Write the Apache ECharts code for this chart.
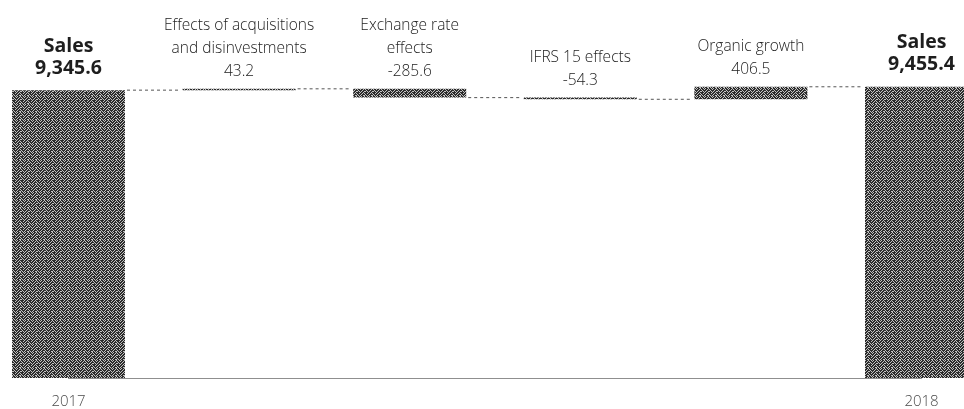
<!DOCTYPE html>
<html>
<head>
<meta charset="utf-8">
<style>
  html, body { margin: 0; padding: 0; background: #fff; }
  #chart { width: 964px; height: 409px; }
</style>
<script src="https://cdn.jsdelivr.net/npm/echarts@6/dist/echarts.min.js"></script>
</head>
<body>
<div id="chart"></div>
<script>
// Sales bridge 2017 -> 2018 (EUR million)
const categories = [
  'Sales',
  'Effects of acquisitions\nand disinvestments',
  'Exchange rate\neffects',
  'IFRS 15 effects',
  'Organic growth',
  'Sales'
];
const values = [9345.6, 43.2, -285.6, -54.3, 406.5, 9455.4];
const isTotal = [true, false, false, false, false, true];
const tickLabels = ['2017', '', '', '', '', '2018'];

// Running totals -> invisible base + visible segment for each column
const baseData = [];
const barData = [];
const levels = [];
let running = 0;
values.forEach((v, i) => {
  if (isTotal[i]) {
    baseData.push(0);
    barData.push({ value: v, label: { distance: 11 } });
    running = v;
  } else {
    baseData.push(Math.min(running, running + v));
    barData.push({ value: Math.abs(v) });
    running = running + v;
  }
  levels.push(running);
});
// connector levels between neighbouring columns
const connectorData = levels.slice(0, -1).map((lv, i) => [i, lv]);

function fmt(v, total) {
  if (total) {
    return v.toLocaleString('en-US', { minimumFractionDigits: 1, maximumFractionDigits: 1 });
  }
  return v.toFixed(1);
}

// Mottled halftone texture for the bars (8x8 tile)
function makeTexture() {
  const rows = [
    '10110110',
    '01101011',
    '11011101',
    '10110010',
    '01101111',
    '11010110',
    '10111011',
    '01100101'
  ];
  const c = document.createElement('canvas');
  c.width = 8; c.height = 8;
  const ctx = c.getContext('2d');
  for (let y = 0; y < 8; y++) {
    for (let x = 0; x < 8; x++) {
      ctx.fillStyle = rows[y][x] === '1' ? '#2c2c2c' : '#c2c2c2';
      ctx.fillRect(x, y, 1, 1);
    }
  }
  return c;
}
const texture = { image: makeTexture(), repeat: 'repeat' };

const BAR_W = 113;
const FONT = '"Open Sans", Lato, sans-serif';

const chart = echarts.init(document.getElementById('chart'), null, { renderer: 'canvas' });

chart.setOption({
  animation: false,
  backgroundColor: '#ffffff',
  // category centres sit on the grid edges (boundaryGap: false)
  grid: { left: 68.5, right: 42.5, top: 70, height: 313, containLabel: false },
  xAxis: {
    type: 'category',
    data: categories,
    boundaryGap: false,
    axisTick: { show: false },
    axisLine: { show: true, lineStyle: { color: '#8f8f8f', width: 1 } },
    axisLabel: {
      interval: 0,
      margin: 16,
      color: '#4a4a4a',
      fontFamily: FONT,
      fontWeight: 300,
      fontSize: 15,
      formatter: (val, idx) => tickLabels[idx]
    }
  },
  yAxis: {
    type: 'value',
    min: 0,
    max: 10000,
    show: false,
    splitLine: { show: false }
  },
  series: [
    {
      type: 'bar',
      stack: 'bridge',
      barWidth: BAR_W,
      clip: false,
      data: baseData,
      itemStyle: { color: 'rgba(0,0,0,0)' },
      emphasis: { disabled: true },
      silent: true
    },
    {
      type: 'bar',
      stack: 'bridge',
      barWidth: BAR_W,
      barMinHeight: 1,
      clip: false,
      data: barData,
      itemStyle: { color: texture },
      label: {
        show: true,
        position: 'top',
        distance: 6,
        formatter: (p) => {
          const i = p.dataIndex;
          if (isTotal[i]) {
            return '{b|' + categories[i] + '}\n{b|' + fmt(values[i], true) + '}';
          }
          return categories[i].split('\n').map(s => '{n|' + s + '}').join('\n') +
            '\n{n|' + fmt(values[i], false) + '}';
        },
        rich: {
          b: { fontFamily: '"Open Sans", sans-serif', fontWeight: 'bold', fontSize: 19.5, lineHeight: 22, color: '#1e1e1e', align: 'center' },
          n: { fontFamily: FONT, fontWeight: 300, fontSize: 15.5, lineHeight: 23, color: '#222', align: 'center' }
        }
      }
    },
    {
      type: 'custom',
      data: connectorData,
      silent: true,
      clip: false,
      z: 3,
      renderItem: (params, api) => {
        const i = api.value(0);
        const lv = api.value(1);
        const a = api.coord([i, lv]);
        const b = api.coord([i + 1, lv]);
        const half = BAR_W / 2;
        return {
          type: 'line',
          shape: { x1: a[0] + half + 2, y1: a[1], x2: b[0] - half - 2, y2: b[1] },
          style: { stroke: '#555', lineWidth: 1, lineDash: [3, 3] }
        };
      }
    }
  ]
});
</script>
</body>
</html>
